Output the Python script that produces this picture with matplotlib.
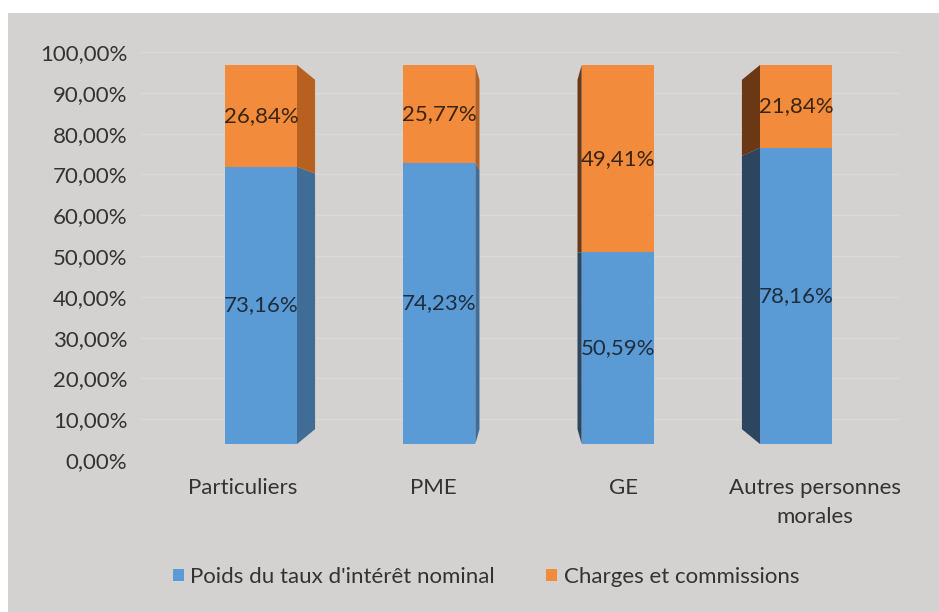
import matplotlib.pyplot as plt
from matplotlib.patches import Rectangle, Polygon, Patch

# ---------------- DATA ----------------
categories = ["Particuliers", "PME", "GE", "Autres personnes\nmorales"]
poids_taux = [73.16, 74.23, 50.59, 78.16]
charges = [26.84, 25.77, 49.41, 21.84]
series_names = ["Poids du taux d'intérêt nominal", "Charges et commissions"]
y_ticks = [0, 10, 20, 30, 40, 50, 60, 70, 80, 90, 100]

plt.rcParams['font.family'] = ['Lato', 'DejaVu Sans']
FS = 16

W, H = 939, 612
fig = plt.figure(figsize=(W / 100, H / 100), dpi=100)
fig.patch.set_facecolor("white")

# gray chart area (white strip top and left)
fig.patches.append(Rectangle((8 / W, 0), 1 - 8 / W, (H - 13) / H,
                             transform=fig.transFigure, facecolor="#d4d1d1",
                             edgecolor="none", zorder=-10))

# ---------------- BACK WALL (ticks + grid) ----------------
ax_wall = fig.add_axes([140 / W, (H - 460) / H, 760 / W, 408 / H])
ax_wall.set_facecolor("none")
ax_wall.set_ylim(0, 100)
ax_wall.set_xlim(0, 1)
ax_wall.set_yticks(y_ticks)
ax_wall.set_yticklabels([f"{t:.2f}%".replace(".", ",") for t in y_ticks],
                        fontsize=FS, color="#333333")
ax_wall.tick_params(axis="y", length=0, pad=9)
ax_wall.set_xticks([])
for s in ax_wall.spines.values():
    s.set_visible(False)
for t in y_ticks:
    ax_wall.axhline(t, color="#dad8d8", lw=1, zorder=0)

# ---------------- BARS (front faces + perspective sides) ----------------
ax = fig.add_axes([0, (H - 444) / H, 1, 379 / H])
ax.set_facecolor("none")
ax.axis("off")
unit = 178.33
ax.set_xlim(-261 / unit, (W - 261) / unit)
ax.set_ylim(0, 1)

blue, orange = "#5b9bd5", "#f28c3c"
blue_side_r, orange_side_r = "#3f6d96", "#b8601f"
blue_side_l, orange_side_l = "#2c4660", "#6a3815"
bw = 72 / unit
vx, vy, t = 1.5, 0.5, 0.078

xs = list(range(len(categories)))
b = [v / 100 for v in poids_taux]
o = [v / 100 for v in charges]
ax.bar(xs, b, width=bw, color=blue, zorder=3)
ax.bar(xs, o, width=bw, bottom=b, color=orange, zorder=3)


def side(x, y0, y1, color):
    xe = x + bw / 2 if x < vx else x - bw / 2
    pts = [(xe, y0), (xe, y1),
           (xe + t * (vx - xe), y1 + t * (vy - y1)),
           (xe + t * (vx - xe), y0 + t * (vy - y0))]
    ax.add_patch(Polygon(pts, closed=True, facecolor=color,
                         edgecolor="none", zorder=2))


for i in xs:
    right = i < vx
    side(i, 0, b[i], blue_side_r if right else blue_side_l)
    side(i, b[i], b[i] + o[i], orange_side_r if right else orange_side_l)
    ax.text(i, b[i] / 2, f"{poids_taux[i]:.2f}%".replace(".", ","),
            ha="center", va="center", fontsize=FS, color="#1f2d3d", zorder=4)
    ax.text(i, b[i] + o[i] / 2, f"{charges[i]:.2f}%".replace(".", ","),
            ha="center", va="center", fontsize=FS, color="#3b2412", zorder=4)
    # category labels on the floor front edge
    ax.text(vx + 1.07 * (i - vx), -0.09, categories[i], ha="center",
            va="top", fontsize=FS, color="#333333", linespacing=1.55)

# ---------------- LEGEND ----------------
handles = [Patch(facecolor=blue, edgecolor="none"),
           Patch(facecolor=orange, edgecolor="none")]
fig.legend(handles, series_names, loc="center", ncol=2,
           bbox_to_anchor=(486 / W, 1 - 577 / H), frameon=False,
           fontsize=FS, handlelength=0.5, handleheight=0.5,
           handletextpad=0.3, columnspacing=2.3, labelcolor="#333333")

fig.savefig("out.png", dpi=100, facecolor=fig.get_facecolor())
